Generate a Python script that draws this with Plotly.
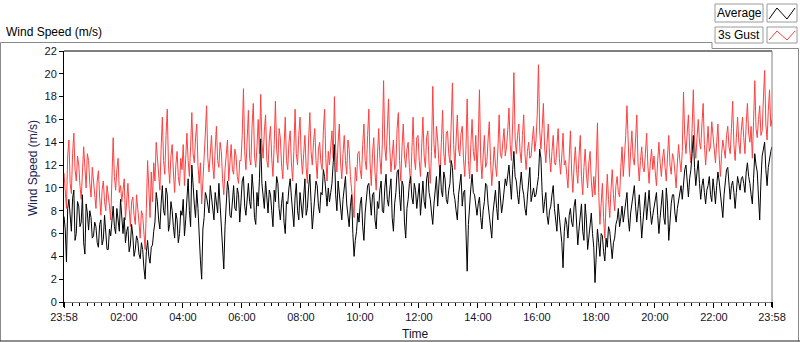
import pandas as pd
import plotly.graph_objects as go

# ---------------- data (2.5-minute samples, 23:58 -> 23:58 next day) ----------------
start_time = "2021-03-01 23:58"
sample_seconds = 150

average_ms = [
    7.5, 6.4, 3.5, 8.2, 9.0, 7.6, 6.2, 9.1, 9.8, 5.4, 6.0, 8.8, 8.4, 6.6, 7.0, 9.4, 5.2, 4.2, 8.6, 7.8, 6.3, 8.0, 7.4, 5.6,
    5.8, 7.0, 6.6, 5.2, 4.8, 6.8, 7.2, 5.0, 5.5, 7.6, 6.2, 4.6, 4.6, 6.4, 5.8, 7.0, 8.4, 6.6, 6.0, 8.2, 7.4, 6.2, 9.0, 7.2,
    6.0, 7.4, 5.2, 6.2, 6.6, 4.4, 5.0, 6.8, 5.8, 4.0, 4.6, 5.8, 5.4, 4.2, 3.8, 5.2, 4.6, 3.0, 2.0, 4.4, 5.4, 4.0, 3.4, 4.8,
    5.0, 6.2, 7.0, 9.6, 8.8, 7.2, 6.4, 8.6, 10.2, 8.0, 7.6, 10.0, 9.4, 6.2, 6.8, 8.8, 8.0, 6.6, 5.6, 7.8, 7.2, 5.2, 6.0, 8.0,
    7.6, 9.0, 5.8, 7.2, 9.4, 10.8, 8.0, 6.6, 12.0, 9.6, 8.6, 7.4, 9.8, 8.2, 5.0, 3.6, 2.0, 6.4, 7.4, 9.6, 9.2, 8.4, 7.8, 10.2,
    9.0, 8.0, 7.2, 9.6, 8.6, 7.8, 10.4, 8.4, 6.8, 5.2, 2.9, 6.6, 8.2, 10.6, 9.8, 7.6, 7.4, 9.0, 10.2, 8.2, 8.0, 10.0, 9.4, 7.0,
    9.2, 10.6, 11.0, 8.4, 7.6, 9.4, 10.4, 8.8, 8.2, 11.2, 9.8, 7.4, 6.8, 9.6, 8.4, 10.8, 14.3, 10.4, 9.0, 8.2, 10.6, 9.2, 7.8, 9.8,
    9.4, 8.0, 6.6, 9.8, 8.8, 11.0, 10.4, 8.2, 7.2, 8.6, 9.6, 7.0, 6.0, 8.8, 8.6, 10.0, 10.8, 9.2, 7.4, 6.6, 9.2, 10.4, 8.0, 7.2,
    9.6, 8.6, 7.4, 9.2, 10.8, 7.6, 8.2, 10.0, 11.2, 8.8, 6.4, 7.8, 9.0, 10.6, 10.2, 8.4, 7.8, 9.6, 9.4, 11.6, 11.0, 9.2, 8.4, 10.0,
    8.8, 9.6, 10.4, 12.2, 13.8, 9.4, 8.0, 10.6, 9.6, 8.2, 7.2, 9.0, 10.2, 11.0, 8.6, 7.4, 6.6, 8.4, 9.4, 6.0, 4.0, 5.4, 6.2, 7.8,
    7.0, 8.6, 9.2, 6.6, 5.4, 7.8, 8.8, 10.2, 10.4, 8.4, 7.6, 9.4, 9.6, 7.2, 6.4, 8.8, 8.2, 9.8, 10.6, 8.0, 7.8, 10.0, 11.2, 9.0,
    8.4, 9.8, 10.8, 7.4, 6.2, 8.6, 9.6, 11.4, 11.6, 9.4, 8.0, 10.6, 10.2, 7.0, 5.6, 8.2, 9.0, 10.4, 11.0, 9.2, 8.6, 10.4, 9.8, 8.2,
    9.4, 10.4, 7.6, 9.0, 10.6, 8.8, 8.2, 10.8, 11.4, 9.6, 9.0, 7.8, 6.8, 8.6, 10.0, 11.0, 8.4, 10.2, 12.0, 9.8, 9.2, 11.4, 10.8, 9.0,
    8.6, 9.8, 10.4, 12.4, 11.8, 9.6, 9.0, 8.0, 7.2, 9.4, 10.6, 11.2, 8.4, 9.6, 9.8, 6.4, 2.7, 6.8, 8.8, 10.0, 11.2, 9.6, 9.4, 8.2,
    7.6, 8.6, 9.2, 7.4, 6.4, 8.0, 8.8, 10.4, 10.2, 8.6, 7.4, 6.6, 5.6, 7.8, 9.0, 9.8, 8.2, 7.2, 10.6, 9.4, 7.8, 8.6, 9.6, 10.8,
    10.2, 11.4, 12.0, 10.4, 9.0, 11.6, 13.2, 11.0, 10.6, 9.4, 8.6, 10.2, 11.4, 10.0, 9.4, 8.2, 7.6, 9.2, 10.8, 11.8, 8.8, 9.6, 10.0, 9.2,
    9.4, 10.2, 11.0, 13.4, 12.6, 9.6, 7.8, 8.8, 9.6, 7.6, 6.8, 8.0, 8.4, 9.4, 10.2, 8.2, 7.2, 6.2, 8.6, 7.6, 6.4, 5.2, 3.0, 6.2,
    7.4, 6.8, 5.6, 7.6, 8.2, 7.0, 6.6, 8.4, 9.0, 6.8, 5.0, 6.4, 7.8, 8.6, 6.2, 5.4, 8.6, 7.2, 4.6, 5.8, 7.0, 7.8, 6.0, 4.8,
    1.7, 4.6, 6.4, 5.2, 4.0, 6.0, 5.8, 4.4, 3.6, 5.6, 4.8, 6.6, 6.2, 5.0, 3.8, 5.2, 5.6, 6.8, 7.2, 8.2, 6.6, 7.4, 8.4, 7.0,
    7.8, 8.8, 9.6, 7.4, 6.2, 7.8, 8.8, 9.8, 10.2, 8.4, 7.0, 8.2, 9.4, 7.6, 5.6, 7.0, 8.6, 9.6, 7.2, 8.4, 9.8, 8.0, 6.8, 7.6,
    8.2, 9.0, 9.6, 7.6, 6.0, 7.4, 8.8, 9.8, 7.4, 6.8, 10.0, 8.6, 5.4, 7.2, 8.6, 9.4, 9.4, 7.8, 7.0, 8.2, 8.8, 9.6, 10.2, 9.0,
    10.4, 11.6, 12.0, 10.6, 9.2, 10.8, 11.6, 13.0, 14.6, 11.8, 10.2, 11.4, 12.4, 10.4, 9.0, 10.2, 10.8, 9.6, 8.6, 9.8, 10.2, 11.0, 9.4, 8.8,
    10.8, 9.8, 8.6, 10.2, 11.4, 10.6, 9.6, 8.2, 7.4, 9.4, 10.4, 11.6, 11.8, 10.0, 9.0, 10.2, 10.6, 9.6, 8.2, 9.6, 11.0, 10.4, 9.8, 10.8,
    11.0, 10.4, 9.6, 11.4, 12.2, 11.0, 10.4, 9.4, 8.6, 10.8, 13.0, 12.0, 11.4, 9.2, 7.2, 10.6, 12.8, 13.4, 14.0, 11.6, 10.2, 11.8, 12.6, 13.2,
    13.6,
]

gust_3s_ms = [
    11.3, 9.6, 8.2, 12.8, 14.2, 10.4, 9.5, 13.0, 14.8, 11.6, 10.6, 12.8, 12.0, 10.2, 9.0, 11.4, 13.6, 11.8, 10.0, 13.0, 12.4, 10.4, 9.2, 11.8,
    10.4, 9.0, 8.2, 10.6, 11.5, 9.2, 7.6, 9.8, 10.6, 8.8, 8.0, 10.2, 9.4, 8.4, 7.2, 10.8, 14.4, 11.0, 9.8, 11.6, 12.6, 9.6, 10.2, 8.8,
    9.6, 10.8, 7.2, 9.0, 10.4, 8.2, 6.6, 8.8, 9.2, 7.6, 6.8, 9.4, 8.4, 7.0, 5.6, 8.0, 7.6, 6.0, 4.6, 8.2, 12.4, 10.0, 7.4, 11.4,
    8.8, 12.2, 10.6, 14.0, 12.6, 11.0, 9.8, 13.4, 16.2, 12.4, 11.2, 14.6, 16.9, 12.0, 10.4, 12.8, 13.8, 11.4, 9.6, 12.0, 13.2, 11.0, 10.2, 12.6,
    11.6, 13.8, 10.2, 12.6, 14.8, 12.4, 11.0, 13.6, 16.6, 13.0, 12.2, 14.4, 15.6, 12.0, 10.4, 12.2, 8.6, 10.6, 12.4, 14.8, 17.2, 12.6, 11.4, 13.2,
    14.6, 12.0, 10.8, 13.4, 15.4, 12.4, 11.8, 14.0, 13.2, 10.8, 9.4, 11.6, 12.6, 14.2, 10.6, 12.2, 13.8, 11.6, 11.2, 13.4, 12.8, 11.0, 10.4, 12.4,
    12.4, 14.6, 18.7, 13.2, 11.6, 14.2, 16.8, 12.6, 12.0, 15.4, 17.4, 12.8, 11.8, 13.6, 16.0, 13.0, 18.2, 14.0, 12.6, 15.0, 16.4, 12.4, 11.8, 14.2,
    15.4, 12.6, 11.0, 13.8, 17.6, 13.4, 12.2, 15.2, 14.4, 12.0, 10.8, 13.6, 16.2, 12.4, 11.6, 14.0, 15.0, 12.2, 10.6, 13.2, 16.9, 13.0, 12.0, 14.6,
    16.2, 12.8, 11.2, 13.0, 14.6, 11.8, 10.4, 14.2, 16.6, 13.2, 12.0, 14.0, 15.2, 12.4, 10.8, 13.4, 14.0, 12.2, 11.6, 15.0, 16.9, 12.6, 10.6, 13.2,
    12.0, 13.6, 15.0, 12.6, 18.0, 13.4, 11.4, 14.0, 15.6, 12.2, 10.8, 13.0, 14.6, 12.4, 11.2, 14.2, 13.4, 11.0, 10.0, 9.0, 7.4, 11.8, 10.6, 13.0,
    13.2, 11.6, 10.8, 13.8, 15.6, 12.4, 11.6, 14.6, 16.9, 12.2, 10.2, 13.0, 14.4, 11.4, 9.8, 12.8, 15.2, 12.6, 11.2, 14.0, 19.4, 13.6, 12.4, 15.0,
    17.8, 13.6, 11.4, 12.8, 14.2, 11.6, 12.0, 15.2, 16.6, 12.4, 10.6, 13.6, 15.6, 12.8, 11.8, 13.4, 14.0, 11.8, 10.4, 13.2, 16.2, 12.6, 11.6, 14.4,
    14.6, 12.4, 11.0, 13.6, 16.2, 12.8, 11.8, 14.4, 15.0, 12.0, 10.4, 13.2, 18.9, 13.8, 12.6, 15.4, 14.2, 12.2, 11.2, 14.0, 16.8, 13.0, 12.0, 14.8,
    15.0, 13.0, 12.2, 15.6, 19.2, 13.8, 11.6, 14.2, 16.4, 13.4, 12.8, 14.8, 15.4, 12.6, 11.0, 13.4, 17.8, 12.4, 10.8, 13.8, 16.0, 13.2, 12.4, 14.6,
    11.4, 14.0, 18.6, 12.6, 10.8, 12.8, 14.6, 11.8, 12.2, 14.2, 15.8, 12.4, 10.2, 11.8, 13.6, 12.0, 11.0, 13.4, 16.4, 13.0, 12.6, 14.0, 15.2, 12.8,
    13.6, 15.0, 17.0, 13.8, 12.4, 15.6, 20.1, 14.4, 13.0, 14.6, 15.6, 13.2, 12.2, 14.6, 16.4, 13.0, 11.6, 13.2, 14.0, 12.6, 12.8, 14.2, 15.4, 13.2,
    14.2, 16.4, 20.8, 15.0, 13.4, 15.2, 17.4, 13.6, 12.2, 14.0, 15.6, 12.8, 11.4, 13.2, 14.6, 12.2, 12.0, 13.6, 15.2, 12.6, 11.2, 12.8, 14.8, 12.0,
    12.4, 11.2, 10.0, 12.6, 15.0, 11.4, 9.6, 12.0, 13.6, 11.6, 10.4, 12.8, 14.6, 11.0, 9.4, 11.8, 13.4, 11.2, 10.0, 12.2, 13.2, 10.6, 9.2, 11.0,
    9.4, 12.0, 15.7, 9.6, 6.8, 8.6, 10.4, 7.4, 5.6, 8.8, 11.2, 9.0, 7.4, 9.8, 11.6, 9.4, 8.0, 10.2, 11.0, 9.6, 9.2, 11.8, 13.6, 11.0,
    12.4, 14.6, 17.2, 12.8, 11.0, 13.2, 15.0, 12.6, 12.0, 14.2, 16.4, 12.2, 10.6, 12.4, 13.6, 11.8, 11.4, 13.0, 14.8, 12.0, 10.4, 12.2, 13.4, 11.6,
    12.8, 11.4, 10.2, 12.4, 14.0, 12.2, 11.0, 12.6, 13.4, 11.8, 10.6, 12.8, 14.6, 12.0, 11.2, 13.0, 12.6, 11.4, 10.0, 12.2, 13.8, 12.4, 11.4, 13.2,
    18.4, 14.6, 13.0, 14.8, 16.4, 13.4, 12.2, 15.2, 18.6, 14.2, 12.6, 14.4, 16.0, 14.0, 13.4, 15.6, 17.4, 13.8, 12.0, 13.6, 15.4, 13.2, 13.6, 15.8,
    14.6, 13.2, 12.2, 14.0, 15.6, 12.8, 11.0, 13.0, 14.2, 13.4, 12.6, 14.6, 15.4, 13.6, 13.0, 15.2, 17.6, 13.8, 12.4, 14.4, 16.2, 14.0, 13.0, 15.0,
    16.2, 14.4, 13.0, 15.6, 17.4, 14.8, 14.0, 15.4, 12.6, 15.8, 19.4, 15.2, 14.4, 16.0, 17.2, 14.6, 15.0, 17.8, 20.3, 15.6, 14.2, 16.8, 18.6, 15.4,
    16.0,
]

series_names = ["Average", "3s Gust"]
major_tick_labels = ["23:58", "02:00", "04:00", "06:00", "08:00", "10:00", "12:00",
                     "14:00", "16:00", "18:00", "20:00", "22:00", "23:58"]
y_ticks = [0, 2, 4, 6, 8, 10, 12, 14, 16, 18, 20, 22]

# ---------------- build ----------------
times = pd.date_range(start_time, periods=len(average_ms), freq=f"{sample_seconds}s")
times_g = pd.date_range(start_time, periods=len(gust_3s_ms), freq=f"{sample_seconds}s")
t0 = times[0]
t1 = t0 + pd.Timedelta(hours=24)
midnight = t0.normalize() + pd.Timedelta(days=1)
major_vals = [t0] + [midnight + pd.Timedelta(hours=h) for h in range(2, 23, 2)] + [t1]
minor_vals = [t for t in pd.date_range(midnight, t1, freq="15min") if t not in major_vals]

W, H = 800, 342
L, R, T, B = 64, 772, 51, 302  # plot area in pixels


def px(x):
    return (x - L) / (R - L)


def py(y):
    return (B - y) / (B - T)


FONT = "Liberation Sans, Arial, sans-serif"
TXT = "#141428"

fig = go.Figure()
fig.add_trace(go.Scatter(x=times_g, y=gust_3s_ms, mode="lines", name=series_names[1],
                         line=dict(color="#ff4040", width=1), showlegend=False))
fig.add_trace(go.Scatter(x=times, y=average_ms, mode="lines", name=series_names[0],
                         line=dict(color="#000000", width=1), showlegend=False))

fig.update_layout(
    width=W, height=H,
    margin=dict(l=L, r=W - R, t=T, b=H - B, autoexpand=False),
    paper_bgcolor="white", plot_bgcolor="white",
    font=dict(family=FONT, size=11, color=TXT),
    xaxis=dict(
        automargin=False,
        range=[t0, t1], tickmode="array", tickvals=major_vals, ticktext=major_tick_labels,
        ticks="outside", ticklen=5, tickwidth=1, tickcolor="#000000",
        showline=True, linecolor="#808080", linewidth=1, showgrid=False, zeroline=False,
        tickfont=dict(size=11, color=TXT),
        minor=dict(tickmode="array", tickvals=minor_vals, ticks="outside", ticklen=3,
                   tickcolor="#000000", tickwidth=1, showgrid=False),
        title=dict(text=""),
    ),
    yaxis=dict(
        automargin=False,
        range=[0, 22], tickmode="array", tickvals=y_ticks,
        ticks="outside", ticklen=4, tickcolor="#000000",
        showline=True, linecolor="#000000", linewidth=1, showgrid=False, zeroline=False,
        tickfont=dict(size=11, color=TXT),
        title=dict(text=""),
    ),
)

shapes = []
GRAY = "#8a8a8a"
# outer frame
shapes.append(dict(type="path", xref="paper", yref="paper",
                   path=f"M {px(0.5)} {py(341)} L {px(0.5)} {py(42.5)} L {px(712)} {py(42.5)} "
                        f"L {px(712)} {py(48.5)} L {px(798.5)} {py(48.5)} L {px(798.5)} {py(341)}",
                   line=dict(color=GRAY, width=1)))
shapes.append(dict(type="line", xref="paper", yref="paper", x0=px(0), x1=px(800),
                   y0=py(341), y1=py(341), line=dict(color="#202020", width=1)))
# plot borders: top black, right gray
shapes.append(dict(type="line", xref="paper", yref="paper", x0=0, x1=1, y0=1, y1=1,
                   line=dict(color="#000000", width=1)))
shapes.append(dict(type="line", xref="paper", yref="paper", x0=1, x1=1, y0=0, y1=1,
                   line=dict(color="#808080", width=1)))
# thick end ticks
for xv in (0, 1):
    shapes.append(dict(type="line", xref="paper", yref="paper", x0=xv, x1=xv,
                       y0=0, y1=py(B + 5), line=dict(color="#000000", width=2)))

# legend boxes
legend_rows = [(4, 22, "#000000"), (27, 43, "#ff4040")]
for (top, bot, col), name in zip(legend_rows, series_names):
    shapes.append(dict(type="rect", xref="paper", yref="paper",
                       x0=px(715), x1=px(763), y0=py(bot), y1=py(top),
                       line=dict(color="#9a9a9a", width=1), fillcolor="white"))
    shapes.append(dict(type="rect", xref="paper", yref="paper",
                       x0=px(767), x1=px(797), y0=py(bot), y1=py(top),
                       line=dict(color="#9a9a9a", width=1), fillcolor="white"))
    ymid_lo, ymid_hi = bot - 3, top + 4
    shapes.append(dict(type="path", xref="paper", yref="paper",
                       path=f"M {px(769)} {py(ymid_lo)} L {px(777)} {py(ymid_hi)} "
                            f"L {px(787)} {py(ymid_lo)} L {px(795)} {py(ymid_hi)}",
                       line=dict(color=col, width=1)))
    fig.add_annotation(xref="paper", yref="paper", x=px(739), y=py((top + bot) / 2),
                       text=name, showarrow=False, xanchor="center", yanchor="middle",
                       font=dict(size=12, color="#000000", family=FONT))

fig.update_layout(shapes=shapes)

# titles as annotations at exact pixel positions
fig.add_annotation(xref="paper", yref="paper", x=px(4), y=py(32), text="Wind Speed (m/s)",
                   showarrow=False, xanchor="left", yanchor="middle",
                   font=dict(size=12, color="#000000", family=FONT))
fig.add_annotation(xref="paper", yref="paper", x=px(415), y=py(334), text="Time",
                   showarrow=False, xanchor="center", yanchor="middle",
                   font=dict(size=12, color=TXT, family=FONT))
fig.add_annotation(xref="paper", yref="paper", x=px(33), y=py(168), text="Wind Speed (m/s)",
                   showarrow=False, xanchor="center", yanchor="middle", textangle=-90,
                   font=dict(size=12, color="#1c2450", family=FONT))

fig.write_html("out.html",
               config={"displayModeBar": False},
               post_script="document.body.style.margin='0';document.body.style.padding='0';")
